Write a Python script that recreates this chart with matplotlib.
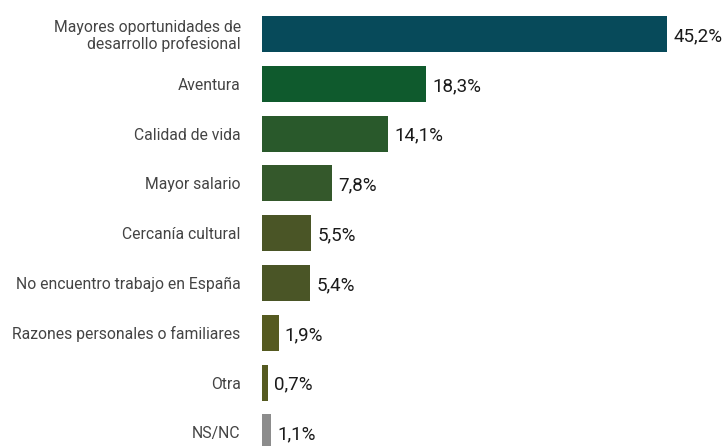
import matplotlib
matplotlib.use("Agg")
import matplotlib.pyplot as plt

categories = [
    "Mayores oportunidades de\ndesarrollo profesional",
    "Aventura",
    "Calidad de vida",
    "Mayor salario",
    "Cercanía cultural",
    "No encuentro trabajo en España",
    "Razones personales o familiares",
    "Otra",
    "NS/NC",
]
values = [45.2, 18.3, 14.1, 7.8, 5.5, 5.4, 1.9, 0.7, 1.1]
value_labels = ["45,2%", "18,3%", "14,1%", "7,8%", "5,5%", "5,4%", "1,9%", "0,7%", "1,1%"]
colors = ["#074a5a", "#0f5a2d", "#29592b", "#34582b", "#4a5526", "#4a5526",
          "#555a20", "#555a20", "#8c8c8c"]

W, H = 726, 446
fig = plt.figure(figsize=(W / 100, H / 100), dpi=100)
ax = fig.add_axes([261.5 / W, 0, 1 - 261.5 / W, 1])

px_per_unit = 8.98
ax.set_xlim(0, (W - 261.5) / px_per_unit)
spacing = 49.8
top_c = 34
ax.set_ylim((H - top_c) / spacing, -top_c / spacing)

ypos = list(range(len(categories)))
ax.barh(ypos, values, height=0.72, color=colors)

for y, v, lab in zip(ypos, values, value_labels):
    ax.annotate(lab, (v, y), xytext=(4.5, -1.5), textcoords="offset points",
                ha="left", va="center", fontsize=13.5, color="#1a1a1a",
                family="Roboto")

ax.set_yticks(ypos)
ax.set_yticklabels(categories, fontsize=11.3, color="#444444",
                   family="Roboto", fontweight="normal", linespacing=1.1)
ax.tick_params(axis="y", length=0, pad=15)
ax.set_xticks([])
for s in ax.spines.values():
    s.set_visible(False)

fig.savefig("out.png", dpi=100)
